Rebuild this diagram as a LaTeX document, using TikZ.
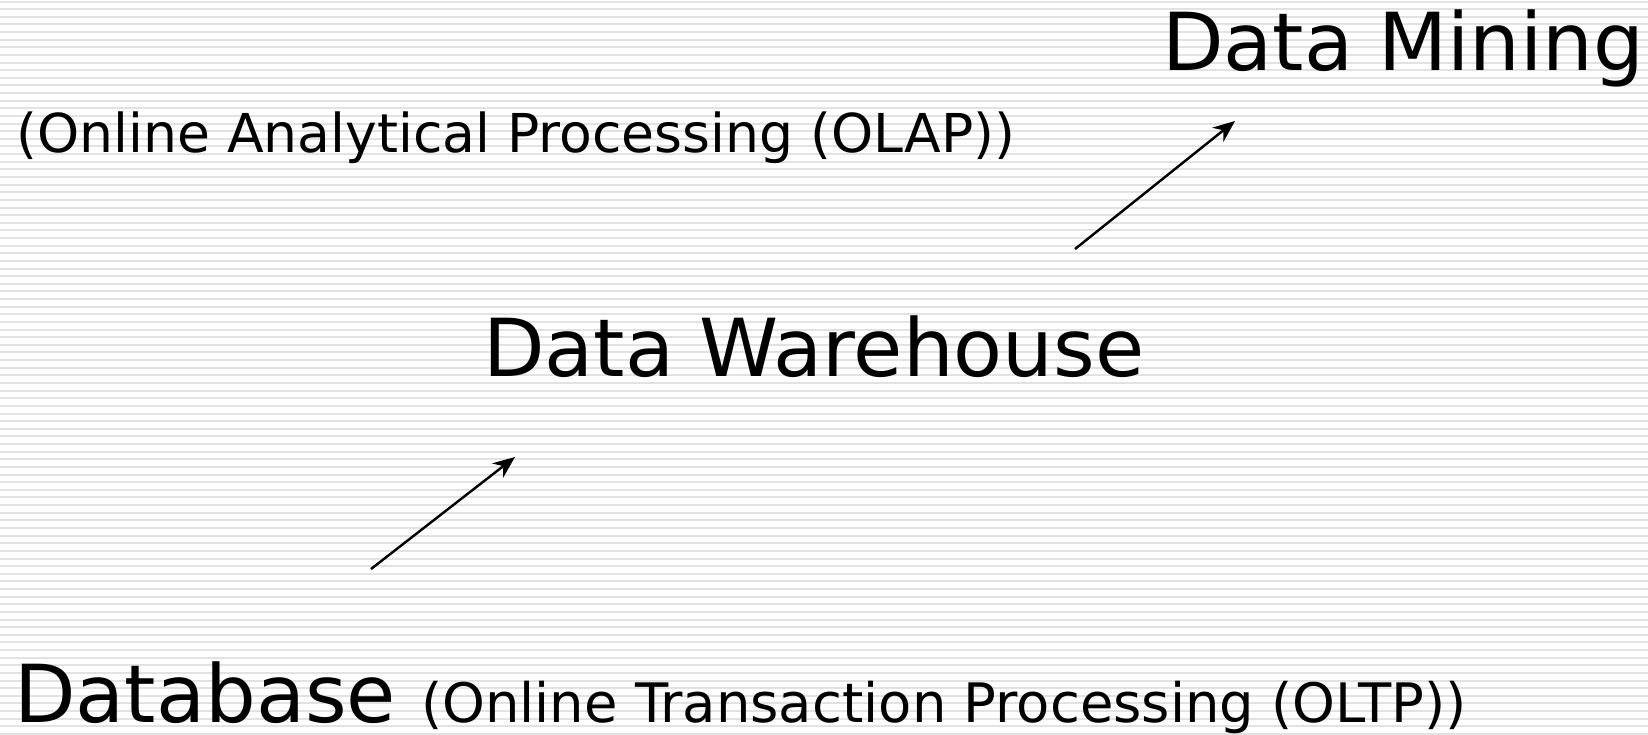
\documentclass[tikz,border=0pt]{standalone}
\usepackage{fontspec}
\setmainfont{DejaVu Sans}
\usetikzlibrary{arrows.meta}
\definecolor{stripe}{HTML}{E2E2E2}
\tikzset{
  big/.style={anchor=base west,inner sep=0pt,font=\fontsize{80}{90}\selectfont},
  small/.style={anchor=base west,inner sep=0pt,font=\fontsize{53.6}{62}\selectfont},
  smallb/.style={anchor=base west,inner sep=0pt,font=\fontsize{54.4}{62}\selectfont},
  flow/.style={line width=2.4pt,-{Stealth[length=22pt,width=18pt]}},
  stripeline/.style={stripe,line width=2pt}
}
\begin{document}
\begin{tikzpicture}[x=1pt,y=-1pt]
\useasboundingbox (0,0) rectangle (1648,734);
\fill[white] (0,0) rectangle (1648,734);
\foreach \i in {0,...,96}{
  \draw[stripeline] (0,{1.5+7.63*\i}) -- (1648,{1.5+7.63*\i});
}
\node[big] (dm) at (1162,70) {Data Mining};
\node[small] (olap) at (16,152) {(Online Analytical Processing (OLAP))};
\node[big] (dw) at (483,376) {Data Warehouse};
\node[big] (db) at (14,722) {Database};
\node[smallb] (oltp) at (421,722) {(Online Transaction Processing (OLTP))};
\coordinate (a1s) at (371,569);
\coordinate (a1e) at (515,457);
\coordinate (a2s) at (1075,249);
\coordinate (a2e) at (1235,121);
\draw[flow] (a1s) -- (a1e);
\draw[flow] (a2s) -- (a2e);
\end{tikzpicture}
\end{document}
